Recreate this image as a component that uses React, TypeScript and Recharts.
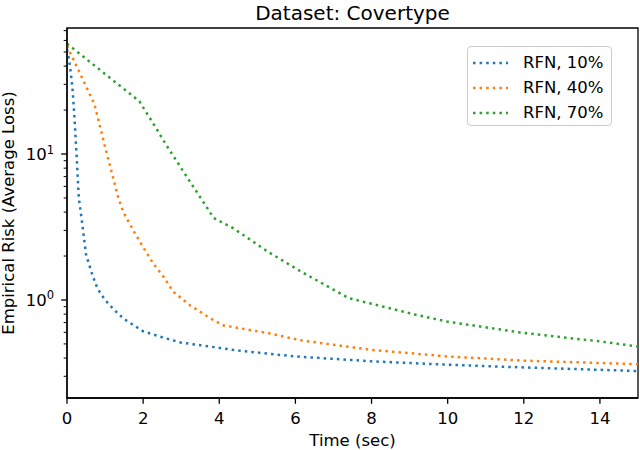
import { LineChart, Line, XAxis, YAxis, Legend, ReferenceArea } from 'recharts';

// time (sec) and empirical risk, one pair of arrays per run
const T_10 = [0, 0.05, 0.1, 0.15, 0.2, 0.25, 0.31, 0.39, 0.5, 0.66, 0.8, 1.0, 1.25, 1.5, 2.0, 2.5, 3.0, 3.5, 4.5, 6.0, 8.0, 10.0, 12.0, 15.0];
const RISK_10 = [52, 45, 36, 27, 17, 10, 5.0, 3.5, 2.05, 1.5, 1.2, 1.0, 0.85, 0.74, 0.61, 0.555, 0.51, 0.49, 0.45, 0.41, 0.38, 0.36, 0.345, 0.326];

const T_40 = [0, 0.72, 1.0, 1.35, 1.48, 1.74, 2.0, 2.27, 2.53, 2.79, 3.23, 3.76, 4.1, 5.33, 6.12, 8.0, 10.0, 12.0, 15.0];
const RISK_40 = [55, 22, 11.2, 5.0, 4.0, 3.0, 2.3, 1.77, 1.45, 1.14, 0.92, 0.75, 0.67, 0.59, 0.53, 0.455, 0.41, 0.384, 0.363];

const T_70 = [0, 1.9, 2.35, 2.61, 3.0, 3.49, 3.85, 4.36, 5.28, 6.12, 7.4, 9.18, 10.0, 12.0, 14.0, 15.0];
const RISK_70 = [57, 23, 14.9, 11.5, 8.0, 5.1, 3.65, 3.11, 2.14, 1.58, 1.03, 0.79, 0.71, 0.594, 0.52, 0.48];

const X_TICKS = [0, 2, 4, 6, 8, 10, 12, 14];
const Y_MAJOR = [1, 10];
const Y_TICKS = [0.3, 0.4, 0.5, 0.6, 0.7, 0.8, 0.9, 1, 2, 3, 4, 5, 6, 7, 8, 9, 10, 20, 30, 40, 50, 60, 70];
const X_DOMAIN = [0, 15];
const Y_DOMAIN = [0.213, 73];

const FONT = 'DejaVu Sans, sans-serif';
const DOTTED = '2.5 4.1';

const toRows = (ts: number[], vs: number[]) => ts.map((t, i) => ({ t, risk: vs[i] }));

const SERIES = [
  { name: 'RFN, 10%', color: '#1f77b4', data: toRows(T_10, RISK_10) },
  { name: 'RFN, 40%', color: '#ff7f0e', data: toRows(T_40, RISK_40) },
  { name: 'RFN, 70%', color: '#2ca02c', data: toRows(T_70, RISK_70) },
];

function YTick(props: any) {
  const { x, y, payload } = props;
  const v = payload.value;
  const major = Y_MAJOR.includes(v);
  const len = major ? 5.8 : 3.3;
  return (
    <g>
      <line x1={x - len} x2={x} y1={y} y2={y} stroke="#000" strokeWidth={major ? 1.3 : 1} />
      {major && (
        <text x={x - 13} y={y + 6} textAnchor="end" fontSize={16.5} fontFamily={FONT} fill="#000">
          <tspan>10</tspan>
          <tspan dy={-6.5} fontSize={11.5}>{Math.round(Math.log10(v))}</tspan>
        </text>
      )}
    </g>
  );
}

function LegendBox({ payload }: any) {
  return (
    <div
      style={{
        width: 145,
        height: 80,
        boxSizing: 'border-box',
        border: '1px solid #cccccc',
        borderRadius: 4,
        background: 'rgba(255,255,255,0.8)',
        paddingTop: 3,
        fontFamily: FONT,
        fontSize: 16.5,
        color: '#000',
      }}
    >
      {(payload || []).map((p: any) => (
        <div key={p.value} style={{ height: 25, display: 'flex', alignItems: 'center', paddingLeft: 5 }}>
          <svg width={35} height={6} style={{ marginRight: 15 }}>
            <line x1={0} x2={35} y1={3} y2={3} stroke={p.color} strokeWidth={2.5} strokeDasharray={DOTTED} />
          </svg>
          <span>{p.value}</span>
        </div>
      ))}
    </div>
  );
}

export default function App() {
  // the figure uses the whole window, so undo the body margin
  return (
    <div style={{ position: 'absolute', left: 0, top: 0 }}>
      <LineChart width={640} height={450} margin={{ top: 28, right: 2, bottom: 0, left: 0 }}>
        <text x={352.5} y={19.5} textAnchor="middle" fontSize={20} fontFamily={FONT} fill="#000">
          Dataset: Covertype
        </text>
        <XAxis
          dataKey="t"
          type="number"
          domain={X_DOMAIN}
          allowDataOverflow
          ticks={X_TICKS}
          interval={0}
          height={52}
          tickSize={5.8}
          tickMargin={8}
          tickLine={{ stroke: '#000', strokeWidth: 1.3 }}
          axisLine={{ stroke: '#000', strokeWidth: 1.3 }}
          tick={{ fill: '#000', fontSize: 16.5, fontFamily: FONT }}
          label={{
            content: ({ viewBox }: any) => (
              <text
                x={viewBox.x + viewBox.width / 2}
                y={viewBox.y + 48}
                textAnchor="middle"
                fontSize={16.5}
                fontFamily={FONT}
                fill="#000"
              >
                Time (sec)
              </text>
            ),
          }}
        />
        <YAxis
          dataKey="risk"
          scale="log"
          domain={Y_DOMAIN}
          allowDataOverflow
          ticks={Y_TICKS}
          interval={0}
          width={67}
          tickSize={0}
          tickMargin={0}
          tickLine={false}
          axisLine={{ stroke: '#000', strokeWidth: 1.3 }}
          tick={<YTick />}
          label={{
            content: ({ viewBox }: any) => {
              const cx = 13.7;
              const cy = viewBox.y + viewBox.height / 2;
              return (
                <text
                  x={cx}
                  y={cy}
                  transform={`rotate(-90, ${cx}, ${cy})`}
                  textAnchor="middle"
                  fontSize={16.5}
                  fontFamily={FONT}
                  fill="#000"
                >
                  Empirical Risk (Average Loss)
                </text>
              );
            },
          }}
        />
        <ReferenceArea
          x1={X_DOMAIN[0]}
          x2={X_DOMAIN[1]}
          y1={Y_DOMAIN[0]}
          y2={Y_DOMAIN[1]}
          fill="none"
          stroke="#000"
          strokeWidth={1.3}
          ifOverflow="visible"
        />
        <Legend
          layout="horizontal"
          verticalAlign="middle"
          align="center"
          wrapperStyle={{ top: 46, left: 467, width: 145 }}
          content={<LegendBox />}
        />
        {SERIES.map((s) => (
          <Line
            key={s.name}
            data={s.data}
            dataKey="risk"
            name={s.name}
            type="linear"
            stroke={s.color}
            strokeWidth={2.5}
            strokeDasharray={DOTTED}
            dot={false}
            activeDot={false}
            isAnimationActive={false}
          />
        ))}
      </LineChart>
    </div>
  );
}
